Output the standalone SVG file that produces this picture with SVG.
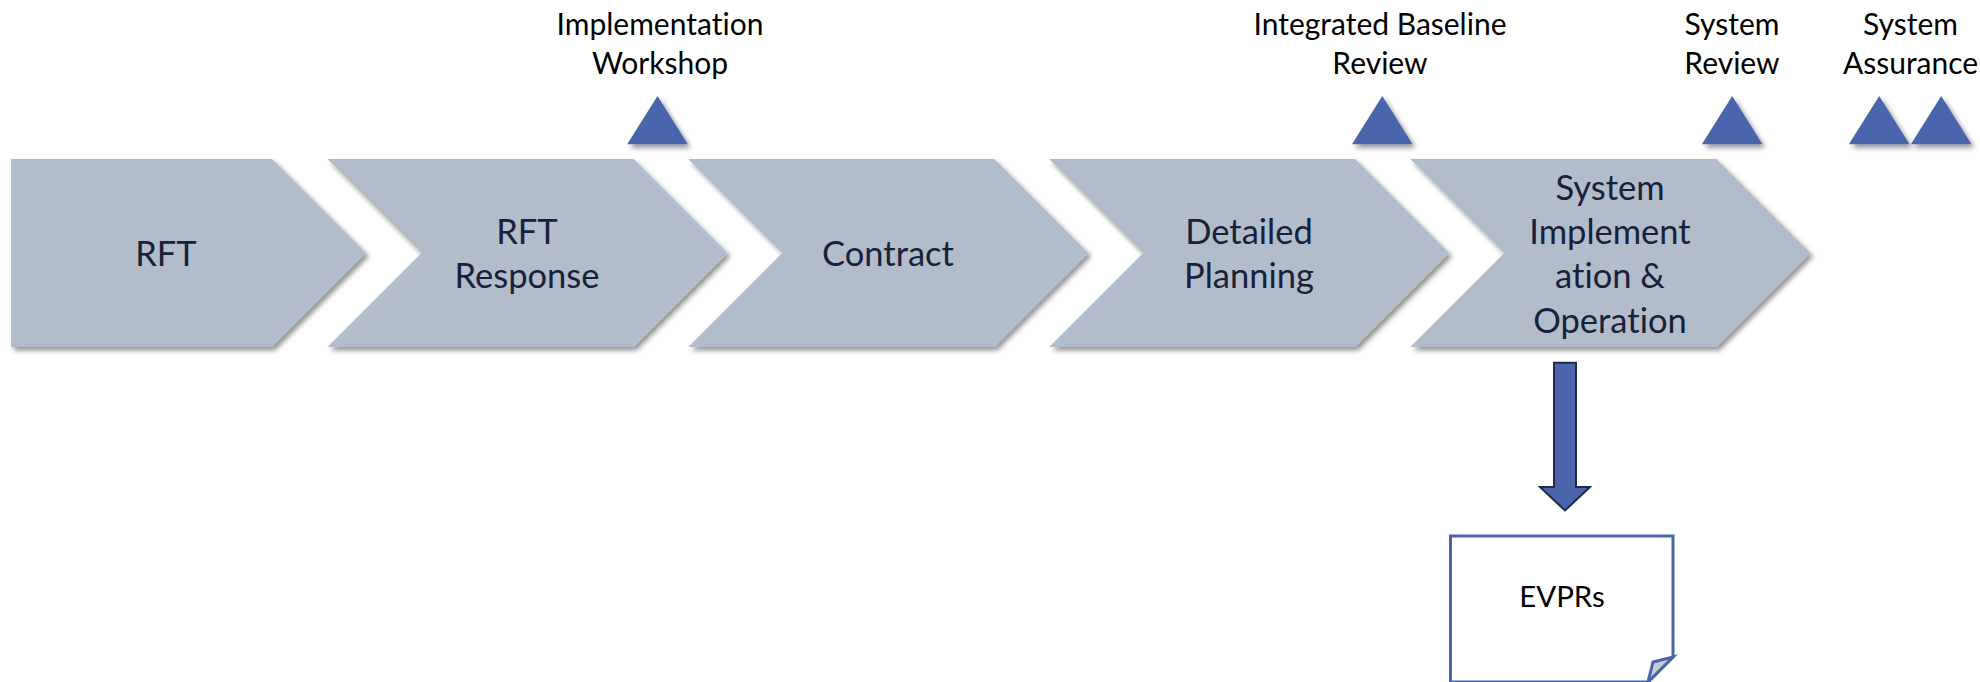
<svg xmlns="http://www.w3.org/2000/svg" width="1980" height="682" viewBox="0 0 1980 682">
  <defs>
    <filter id="shade" x="-10%" y="-10%" width="125%" height="130%">
      <feDropShadow dx="3" dy="3.5" stdDeviation="2.6" flood-color="#000" flood-opacity="0.42"/>
    </filter>
  </defs>
  <style>
    text { font-family: "Lato", "Liberation Sans", sans-serif; font-variant-ligatures: none; font-feature-settings: "liga" 0, "clig" 0; text-anchor: middle; }
    .phase { fill: #B2BCCB; filter: url(#shade); }
    .phase-label { font-size: 34.5px; fill: #17223A; }
    .gate { fill: #4A65AC; filter: url(#shade); }
    .gate-label { font-size: 30px; fill: #000; }
    .flow { fill: #4A65AC; stroke: #1E2B4A; stroke-width: 2; stroke-linejoin: miter; }
    .doc { fill: #fff; stroke: #4A65AC; stroke-width: 3; stroke-linejoin: miter; }
    .doc-fold { fill: #C9CBD0; stroke: #4A65AC; stroke-width: 3; stroke-linejoin: miter; }
    .doc-label { font-size: 29.5px; fill: #000; }
  </style>

  <rect width="1980" height="682" fill="#fff"/>

  <!-- process phases: chevrons 188px tall, 45-degree points -->
  <g id="phase-rft">
    <path class="phase" d="M11,159 H272 L366,253 L272,347 H11 Z"/>
    <text class="phase-label" x="166" y="266">RFT</text>
  </g>
  <g id="phase-rft-response">
    <path class="phase" d="M327.5,159 H633.5 L727.5,253 L633.5,347 H327.5 L421.5,253 Z"/>
    <text class="phase-label" x="527" y="244">RFT</text>
    <text class="phase-label" x="527" y="288.4">Response</text>
  </g>
  <g id="phase-contract">
    <path class="phase" d="M688.3,159 H994.3 L1088.3,253 L994.3,347 H688.3 L782.3,253 Z"/>
    <text class="phase-label" x="888" y="266">Contract</text>
  </g>
  <g id="phase-detailed-planning">
    <path class="phase" d="M1049.1,159 H1355.1 L1449.1,253 L1355.1,347 H1049.1 L1143.1,253 Z"/>
    <text class="phase-label" x="1249" y="244">Detailed</text>
    <text class="phase-label" x="1249" y="288.4">Planning</text>
  </g>
  <g id="phase-system-implementation">
    <path class="phase" d="M1410.3,159 H1716.3 L1810.3,253 L1716.3,347 H1410.3 L1504.3,253 Z"/>
    <text class="phase-label" x="1610" y="199.6">System</text>
    <text class="phase-label" x="1610" y="244">Implement</text>
    <text class="phase-label" x="1610" y="288.4">ation &amp;</text>
    <text class="phase-label" x="1610" y="332.8">Operation</text>
  </g>

  <!-- milestone gates -->
  <g id="gate-implementation-workshop">
    <text class="gate-label" x="660" y="35">Implementation</text>
    <text class="gate-label" x="660" y="73.6">Workshop</text>
    <path class="gate" d="M657.5,96 L687.8,144.3 H627.2 Z"/>
  </g>
  <g id="gate-integrated-baseline-review">
    <text class="gate-label" x="1380" y="35">Integrated Baseline</text>
    <text class="gate-label" x="1380" y="73.6">Review</text>
    <path class="gate" d="M1382.3,96 L1412.6,144.3 H1352 Z"/>
  </g>
  <g id="gate-system-review">
    <text class="gate-label" x="1732" y="35">System</text>
    <text class="gate-label" x="1732" y="73.6">Review</text>
    <path class="gate" d="M1732.2,96 L1762.5,144.3 H1701.9 Z"/>
  </g>
  <g id="gate-system-assurance">
    <text class="gate-label" x="1910.5" y="35">System</text>
    <text class="gate-label" x="1910.5" y="73.6">Assurance</text>
    <path class="gate" d="M1879.2,96 L1909.5,144.3 H1848.9 Z"/>
    <path class="gate" d="M1941.2,96 L1971.5,144.3 H1910.9 Z"/>
  </g>

  <!-- connectors -->
  <g id="connectors">
    <path class="flow" d="M1554,362.7 H1576 V487 H1590 L1565,510.5 L1540,487 H1554 Z"/>
  </g>

  <!-- output document with folded corner -->
  <g id="doc-evprs">
    <path class="doc" d="M1450.5,536 H1673 V657 L1648,682 H1450.5 Z"/>
    <path class="doc-fold" d="M1648,682 L1653,662 L1673,657 Z"/>
    <text class="doc-label" x="1562" y="606.7">EVPRs</text>
  </g>
</svg>
